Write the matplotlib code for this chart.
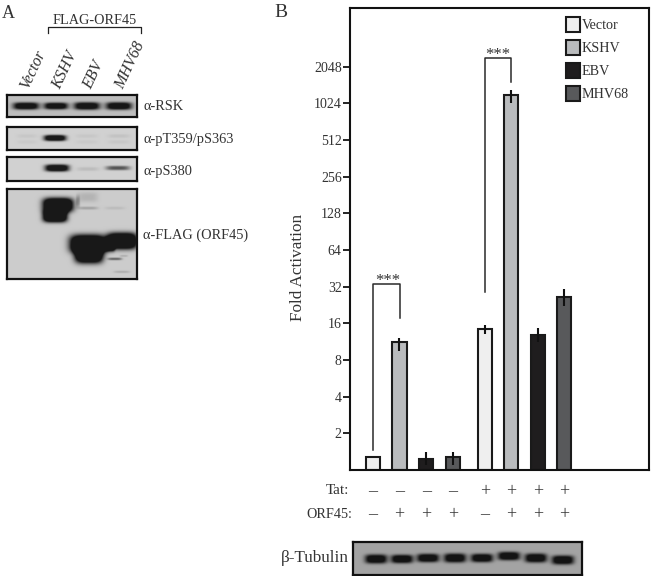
import numpy as np
import matplotlib
matplotlib.use("Agg")
import matplotlib.pyplot as plt
from matplotlib.patches import Patch

plt.rcParams["font.family"] = ["Liberation Serif", "DejaVu Serif"]
plt.rcParams["mathtext.fontset"] = "stix"

W, H = 651, 576
TEXT = "#333333"

# ------------------------------------------------------------------------------
# Data
# ------------------------------------------------------------------------------
constructs = ["Vector", "KSHV", "EBV", "MHV68"]
bar_colors = ["#efefef", "#b9bbbd", "#1f1d1e", "#58595b"]
x_pos = [0, 1, 2, 3, 4.2, 5.2, 6.2, 7.2]
fold = [1.28, 11.2, 1.22, 1.28, 14.4, 1190, 12.8, 26.2]
err_low = [1.28, 9.46, 1.09, 1.10, 13.0, 1024, 11.2, 22.1]
err_high = [1.28, 12.1, 1.40, 1.40, 15.5, 1310, 14.6, 30.6]
bar_color_idx = [0, 1, 2, 3, 0, 1, 2, 3]
tat = ["\u2013", "\u2013", "\u2013", "\u2013", "+", "+", "+", "+"]
orf45 = ["\u2013", "+", "+", "+", "\u2013", "+", "+", "+"]
y_ticks = [2, 4, 8, 16, 32, 64, 128, 256, 512, 1024, 2048]

blot_rows = ["\u03b1-RSK", "\u03b1-pT359/pS363", "\u03b1-pS380", "\u03b1-FLAG (ORF45)"]
blot_label_y = [107, 140, 172, 235]

# band lists: centre x, centre y, half width, half height, strength (page pixels)
rsk_bands = [(26, 106, 13, 3.6, 1.2), (56, 106, 12, 3.4, 1.2), (87, 106, 13, 3.8, 1.2), (119, 106, 13, 3.8, 1.2)]
pt_bands = [(55, 138, 11, 3.0, 1.3), (27, 136, 10, 2, 0.05), (87, 136, 11, 2, 0.05), (119, 136, 11, 2, 0.07),
            (27, 142, 10, 2, 0.04), (87, 142, 11, 2, 0.04), (119, 142, 11, 2, 0.05)]
ps_bands = [(57, 168, 12, 3.5, 1.3), (88, 169, 11, 2, 0.1), (118, 168, 12, 2.2, 0.6)]
flag_bands = [(58, 205, 15, 7, 1.8), (55, 216, 12, 6, 1.8), (88, 244, 18, 9, 1.8), (89, 254, 14, 9, 1.8),
              (122, 241, 15, 8, 1.8), (110, 245, 5, 6, 1.4), (115, 259, 7, 1.3, 0.5), (124, 256, 4, 1, 0.15),
              (122, 272, 8, 1.2, 0.15), (88, 197, 10, 5, 0.12), (88, 208, 10, 1.5, 0.2), (115, 208, 10, 1.5, 0.08),
              (78, 201, 2, 6, 0.25)]
tub_bands = [(376, 559, 11, 4.5, 1.2), (402, 559, 11, 4.2, 1.2), (428, 558, 11, 4.2, 1.2), (455, 558, 11, 4.5, 1.2),
             (482, 558, 11, 4.2, 1.2), (509, 556, 11, 4.2, 1.2), (536, 558, 11, 4.5, 1.2), (563, 560, 11, 4.5, 1.2)]

# ------------------------------------------------------------------------------
# Helpers
# ------------------------------------------------------------------------------
def px_axes(fig, x0, y0, x1, y1):
    return fig.add_axes([x0 / W, 1 - y1 / H, (x1 - x0) / W, (y1 - y0) / H])


def draw_blot(fig, box, bands, background, lw=1.6):
    x0, y0, x1, y1 = box
    ax = px_axes(fig, x0, y0, x1, y1)
    xx, yy = np.meshgrid(np.linspace(x0, x1, (x1 - x0) * 3), np.linspace(y0, y1, (y1 - y0) * 3))
    dark = np.zeros_like(xx)
    for cx, cy, hw, hh, strength in bands:
        dark += strength * np.exp(-np.abs((xx - cx) / hw) ** 4) * np.exp(-np.abs((yy - cy) / hh) ** 3)
    img = background * (1 - np.clip(dark, 0, 0.88))
    ax.imshow(img, cmap="gray", vmin=0, vmax=1, aspect="auto", extent=(x0, x1, y1, y0), interpolation="bilinear")
    ax.set_xticks([])
    ax.set_yticks([])
    for s in ax.spines.values():
        s.set_linewidth(lw)
        s.set_color("#111111")
    return ax


fig = plt.figure(figsize=(W / 100, H / 100), dpi=100)

# full page overlay in pixel coordinates, used for labels and brackets
page = fig.add_axes([0, 0, 1, 1], zorder=5)
page.set_xlim(0, W)
page.set_ylim(H, 0)
page.axis("off")
page.patch.set_alpha(0)

# ------------------------------------------------------------------------------
# Panel A
# ------------------------------------------------------------------------------
draw_blot(fig, (7, 95, 137, 117), rsk_bands, 0.74)
draw_blot(fig, (7, 127, 137, 150), pt_bands, 0.82)
draw_blot(fig, (7, 157, 137, 181), ps_bands, 0.82)
draw_blot(fig, (7, 189, 137, 279), flag_bands, 0.80)

page.text(2, 18, "A", fontsize=13, color=TEXT, va="baseline")
page.text(95, 24, "FLAG-ORF45", fontsize=10.3, color=TEXT, ha="center", va="baseline")
page.plot([48, 48, 141, 141], [33, 27, 27, 33], color="#222222", lw=0.9)

for name, x_start in zip(constructs, [28, 60, 91, 123]):
    page.text(x_start, 90, name, fontsize=11.5, style="italic", color=TEXT, rotation=65,
              rotation_mode="anchor", ha="left", va="baseline")

for label, y_label in zip(blot_rows, blot_label_y):
    page.text(143, y_label, label, fontsize=10.4, color=TEXT, ha="left", va="center")

# ------------------------------------------------------------------------------
# Panel B
# ------------------------------------------------------------------------------
page.text(274, 17, "B", fontsize=14, color=TEXT, va="baseline")

ax = px_axes(fig, 350, 8, 649, 470)
ax.set_yscale("log", base=2)
ax.set_ylim(1, 2 ** 12.6)
ax.set_xlim(-0.86, 10.38)

lower = np.array(fold) - np.array(err_low)
upper = np.array(err_high) - np.array(fold)
ax.bar(x_pos, np.array(fold) - 1, bottom=1, width=0.53, color=[bar_colors[i] for i in bar_color_idx],
       edgecolor="#1a1a1a", linewidth=1.5)
ax.errorbar(x_pos[1:], fold[1:], yerr=[lower[1:], upper[1:]], fmt="none", ecolor="#111111", elinewidth=1.5)

ax.set_yticks(y_ticks)
ax.set_yticklabels([str(v) for v in y_ticks], fontsize=10, color=TEXT)
ax.minorticks_off()
ax.set_xticks([])
ax.tick_params(axis="y", length=5, width=1.2, pad=1)
for s in ax.spines.values():
    s.set_linewidth(1.5)
    s.set_color("#111111")
page.text(298, 267, "Fold Activation", fontsize=12.3, color=TEXT, rotation=90, ha="center", va="center")

ax.legend(handles=[Patch(facecolor=c, edgecolor="#1a1a1a", linewidth=1.5, label=n)
                   for c, n in zip(bar_colors, constructs)],
          loc="upper left", bbox_to_anchor=(0.68, 1.008), frameon=False, fontsize=10.2,
          handlelength=1.0, handleheight=1.25, handletextpad=0.08, labelspacing=0.55, labelcolor=TEXT)

# significance brackets
page.plot([373, 373, 400, 400], [450, 284, 284, 318], color="#2a2a2a", lw=1.1)
page.text(388, 281, "***", fontsize=12, color=TEXT, ha="center", va="center")
page.plot([485, 485, 511, 511], [292, 58, 58, 82], color="#2a2a2a", lw=1.1)
page.text(498, 55, "***", fontsize=12, color=TEXT, ha="center", va="center")

# treatment rows, placed from the bar axis
bar_px = [373 + 26.6 * x for x in x_pos]
page.text(349, 490, "Tat:", fontsize=11, color=TEXT, ha="right", va="center")
page.text(352, 514, "ORF45:", fontsize=10.3, color=TEXT, ha="right", va="center")
for px, t, o in zip(bar_px, tat, orf45):
    page.text(px, 492, t, fontsize=13, color=TEXT, ha="center", va="center")
    page.text(px, 515, o, fontsize=13, color=TEXT, ha="center", va="center")

draw_blot(fig, (353, 542, 582, 575), tub_bands, 0.64)
page.text(281, 558, "\u03b2-Tubulin", fontsize=12.3, color=TEXT, ha="left", va="center")

fig.savefig("out.png", dpi=100)
